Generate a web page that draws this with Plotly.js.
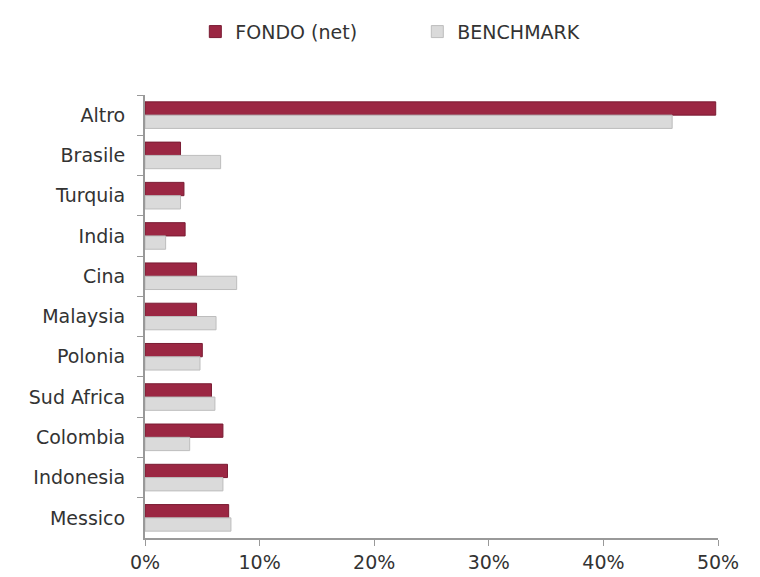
<!DOCTYPE html>
<html><head><meta charset="utf-8">
<script src="https://cdn.plot.ly/plotly-3.0.1.min.js"></script>
<style>body{margin:0;background:#fff}#chart{width:760px;height:577px}</style>
</head><body><div id="chart"></div>
<script>
const categories = ["Altro","Brasile","Turquia","India","Cina","Malaysia","Polonia","Sud Africa","Colombia","Indonesia","Messico"];
const fondo = [49.8, 3.1, 3.4, 3.5, 4.5, 4.5, 5.0, 5.8, 6.8, 7.2, 7.3];
const benchmark = [46.0, 6.6, 3.1, 1.8, 8.0, 6.2, 4.8, 6.1, 3.9, 6.8, 7.5];
const tickVals = [0,10,20,30,40,50];
const tickText = ["0%","10%","20%","30%","40%","50%"];

const fam = "'DejaVu Sans', sans-serif";
const txt = {family: fam, size: 19, color: "#333"};
const data = [
  {type:"bar", orientation:"h", name:"FONDO (net)", y:categories, x:fondo,
   marker:{color:"#9B2743", line:{color:"#7a1c33", width:1}}},
  {type:"bar", orientation:"h", name:"BENCHMARK", y:categories, x:benchmark,
   marker:{color:"#DADADA", line:{color:"#bdbdbd", width:1}}}
];
const layout = {
  width:760, height:577,
  margin:{l:145, r:42, t:95, b:39, autoexpand:false},
  paper_bgcolor:"#fff", plot_bgcolor:"#fff",
  font: txt,
  barmode:"group", bargap:0.34, bargroupgap:0,
  showlegend:true,
  legend:{orientation:"h", xref:"container", x:0.257, xanchor:"left",
          yref:"container", y:0.945, yanchor:"middle",
          font:txt, itemwidth:30, traceorder:"normal", entrywidth:177},
  xaxis:{range:[0,50], tickvals:tickVals, ticktext:tickText, showgrid:false, zeroline:false,
         showline:true, linecolor:"#999", linewidth:2, ticks:"outside", ticklen:6, tickcolor:"#999",
         tickfont:txt},
  yaxis:{type:"category", autorange:"reversed", showgrid:false, zeroline:false,
         showline:true, linecolor:"#999", linewidth:2, ticks:"outside", tickson:"boundaries",
         ticklen:6, tickcolor:"#999", ticklabelstandoff:14, tickfont:txt}
};
Plotly.newPlot("chart", data, layout, {displayModeBar:false, staticPlot:true});
</script></body></html>
